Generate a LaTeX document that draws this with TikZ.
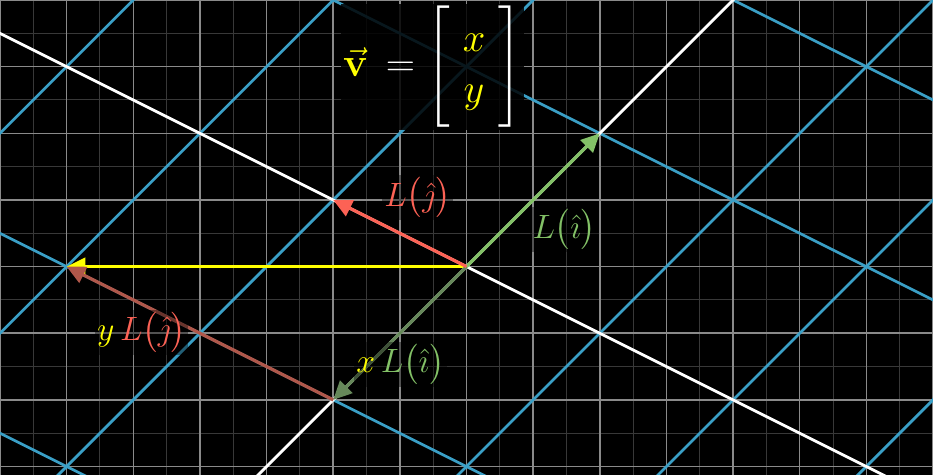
\documentclass[tikz,border=0pt]{standalone}
\usepackage{amsmath,bm}
\usepackage{xcolor}
\usetikzlibrary{arrows.meta, calc}

\definecolor{gridmajor}{HTML}{8A8A8A}
\definecolor{gridminor}{HTML}{383838}
\definecolor{planeblue}{HTML}{3A9FC6}
\definecolor{vecyellow}{HTML}{FFFF00}
\definecolor{ihatgreen}{HTML}{83C167}
\definecolor{jhatred}{HTML}{FC6255}
\definecolor{ihatdark}{HTML}{66885A}
\definecolor{jhatdark}{HTML}{B0574A}

\begin{document}
\begin{tikzpicture}[
    gridmin/.style   = {gridminor, line width=0.45pt},
    gridmaj/.style   = {gridmajor, line width=0.65pt},
    planeline/.style = {planeblue, line width=1.15pt},
    axisline/.style  = {white, line width=1.2pt},
    vec/.style       = {-{Triangle[length=0.28cm, width=0.26cm]}, line width=1.35pt},
    lbl/.style       = {fill=black, fill opacity=0.4, text opacity=1, inner sep=1pt,
                        font=\fontsize{14.5}{17}\selectfont},
    formula/.style   = {fill=black, fill opacity=0.85, text opacity=1, inner sep=1pt,
                        text=white, font=\fontsize{16}{19}\selectfont},
]

\useasboundingbox (-7,-3.125) rectangle (7,4);
\fill[black] (-7,-3.125) rectangle (7,4);

%% ── Background grid and transformed plane ───────────────────────────────────
\begin{scope}
\clip (-7,-3.125) rectangle (7,4);
\draw[gridmin, step=0.5] (-7,-3.5) grid (7,4);
\draw[gridmaj, step=1]   (-7,-4)   grid (7,4);

% lines along L(i), x - y = c
\draw[planeline] (-13,-4) -- (-4,5);
\draw[planeline] (-10,-4) -- (-1,5);
\draw[planeline] (-7,-4)  -- (2,5);
\draw[planeline] (-1,-4)  -- (8,5);
\draw[planeline] (2,-4)   -- (11,5);
\draw[planeline] (5,-4)   -- (14,5);

% lines along L(j), x + 2y = c
\draw[planeline] (-4,-4) -- (-22,5);
\draw[planeline] (2,-4)  -- (-16,5);
\draw[planeline] (14,-4) -- (-4,5);
\draw[planeline] (20,-4) -- (2,5);

% transformed axes
\draw[axisline] (-4,-4) -- (5,5);
\draw[axisline] (8,-4)  -- (-10,5);
\end{scope}

%% ── Vector end points ───────────────────────────────────────────────────────
\coordinate (O)   at (0,0);
\coordinate (Li)  at (2,2);
\coordinate (Lj)  at (-2,1);
\coordinate (xLi) at (-2,-2);
\coordinate (v)   at (-6,0);

%% ── Vectors ─────────────────────────────────────────────────────────────────
\draw[vec, vecyellow] (O)   -- (v);
\draw[vec, jhatdark]  (xLi) -- (v);
\draw[vec, ihatdark]  (O)   -- (xLi);
\draw[vec, ihatgreen] (O)   -- (Li);
\draw[vec, jhatred]   (O)   -- (Lj);

%% ── Labels ──────────────────────────────────────────────────────────────────
\node[lbl] (labLj)  at (-0.735,1.035) {$\color{jhatred}L\bigl(\hat{\jmath}\bigr)$};
\node[lbl] (labLi)  at (1.47,0.555)   {$\color{ihatgreen}L\bigl(\hat{\imath}\bigr)$};
\node[lbl] (labyLj) at (-4.875,-0.99) {$\color{vecyellow}y\,\color{jhatred}L\bigl(\hat{\jmath}\bigr)$};
\node[lbl] (labxLi) at (-0.99,-1.47)  {$\color{vecyellow}x\,\color{ihatgreen}L\bigl(\hat{\imath}\bigr)$};

%% ── Definition of v ─────────────────────────────────────────────────────────
\node[formula] (vdef) at (-0.51,3.0)
    {\renewcommand{\arraystretch}{1.16}\setlength{\arraycolsep}{5.5pt}%
     ${\color{vecyellow}\vec{\mathbf{v}}}\,= \left[\vrule height 27pt depth 19pt width 0pt
       \begin{array}{c} \color{vecyellow}x \\ \color{vecyellow}y \end{array}\right]$};

\end{tikzpicture}
\end{document}
